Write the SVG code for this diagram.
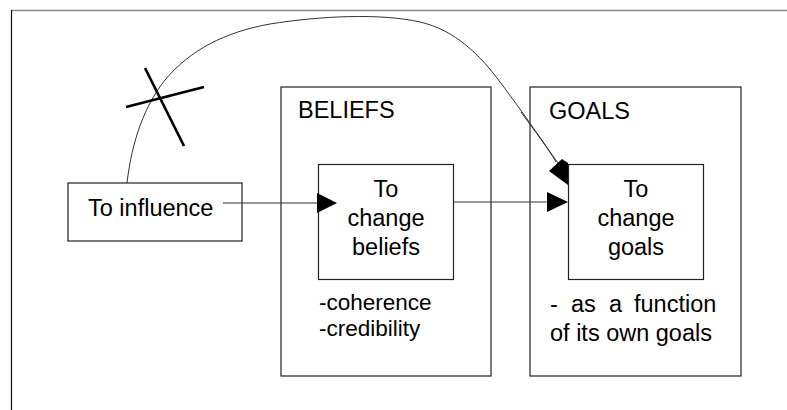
<svg xmlns="http://www.w3.org/2000/svg" width="787" height="410" viewBox="0 0 787 410">
<style>
.box{fill:none;stroke:#222;stroke-width:1.2}
.t{font-family:"Liberation Sans",Arial,sans-serif;font-size:23.5px;fill:#000}
.s{font-size:22.5px}
.c{text-anchor:middle}
.ln{fill:none;stroke:#333;stroke-width:1}
.x{stroke:#000;stroke-width:2.6;stroke-linecap:butt}
</style>
<rect width="787" height="410" fill="#fff"/>
<g id="frame">
<line x1="11" y1="10.5" x2="787" y2="10.5" stroke="#888" stroke-width="1.5"/>
<line x1="11.5" y1="10" x2="11.5" y2="410" stroke="#111" stroke-width="1.2"/>
</g>
<g id="influence">
<rect class="box" x="68" y="183" width="174" height="58"/>
<text class="t" x="88" y="216">To influence</text>
</g>
<g id="beliefs">
<rect class="box" x="281" y="87" width="210" height="289"/>
<text class="t" x="298" y="118">BELIEFS</text>
<text class="t s" x="319" y="310">-coherence</text>
<text class="t s" x="319" y="335.5">-credibility</text>
</g>
<g id="change-beliefs">
<rect class="box" x="318.5" y="164.5" width="135" height="115"/>
<text class="t c" x="386" y="197">To</text>
<text class="t c" x="386" y="226">change</text>
<text class="t c" x="386" y="255">beliefs</text>
</g>
<g id="goals">
<rect class="box" x="530" y="87" width="211" height="289"/>
<text class="t" x="549" y="119">GOALS</text>
<text class="t" y="312"><tspan x="550">-</tspan><tspan x="571">as</tspan><tspan x="609">a</tspan><tspan x="634">function</tspan></text>
<text class="t" x="550" y="341">of its own goals</text>
</g>
<g id="change-goals">
<rect class="box" x="568.5" y="164.5" width="135" height="115"/>
<text class="t c" x="636" y="197">To</text>
<text class="t c" x="636" y="226">change</text>
<text class="t c" x="636" y="255">goals</text>
</g>
<g id="connectors">
<line class="ln" x1="223" y1="203" x2="320" y2="203"/>
<polygon points="317,193 337,203 317,213" fill="#000"/>
<line class="ln" x1="453.5" y1="202" x2="550" y2="202"/>
<polygon points="547,192 568,202 547,212" fill="#000"/>
<path class="ln" d="M127,183 C132,140 145,105 165,80 C190,50 225,32 270,24 C320,16 380,13 420,22 C455,30 480,55 500,82 C525,115 545,145 558,163"/>
<path class="ln" d="M521,112 C536,133 548,148 556,162" stroke="#777"/>
<polygon points="549,171 562,159 568,163 568,185" fill="#000"/>
<line class="x" x1="145" y1="68" x2="184" y2="146"/>
<line class="x" x1="126" y1="107" x2="204" y2="87"/>
</g>
</svg>
